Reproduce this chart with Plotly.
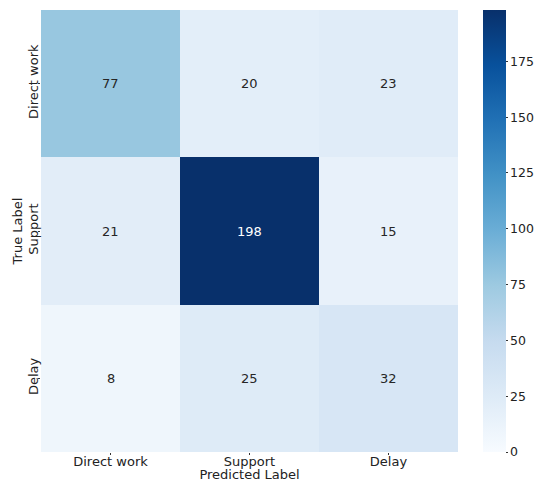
import plotly.graph_objects as go

# Confusion matrix: rows = true label, columns = predicted label
classes = ["Direct work", "Support", "Delay"]
counts = [
    [77, 20, 23],
    [21, 198, 15],
    [8, 25, 32],
]
cbar_ticks = [0, 25, 50, 75, 100, 125, 150, 175]

FONT = "DejaVu Sans"
zmax = max(max(r) for r in counts)

W, H = 534, 482
ML, MR, MT, MB = 41, 28, 10, 30
plot_w = W - ML - MR
heat_right = 458      # right edge of the matrix, px
cbar_left = 483       # left edge of the colour bar, px

fig = go.Figure(
    go.Heatmap(
        z=counts,
        x=classes,
        y=classes,
        colorscale="Blues",
        zmin=0,
        zmax=zmax,
        showscale=True,
        colorbar=dict(
            x=(cbar_left - ML) / plot_w,
            xanchor="left",
            xpad=0,
            ypad=0,
            y=0,
            yanchor="bottom",
            len=1,
            lenmode="fraction",
            thickness=23,
            outlinewidth=0,
            tickvals=cbar_ticks,
            ticks="outside",
            ticklen=2,
            tickwidth=1,
            tickcolor="#333333",
            tickfont=dict(family=FONT, size=12.5, color="#222222"),
        ),
        hoverinfo="skip",
    )
)

# cell counts, white on dark cells
annotations = []
for i, row in enumerate(counts):
    for j, v in enumerate(row):
        annotations.append(
            dict(
                x=classes[j],
                y=classes[i],
                text=str(v),
                showarrow=False,
                font=dict(family=FONT, size=13,
                          color="white" if v > zmax / 2 else "#262626"),
            )
        )

fig.update_layout(
    width=W,
    height=H,
    margin=dict(l=ML, r=MR, t=MT, b=MB, autoexpand=False),
    paper_bgcolor="white",
    plot_bgcolor="white",
    font=dict(family=FONT, size=13, color="#222222"),
    annotations=annotations,
    xaxis=dict(
        domain=[0, (heat_right - ML) / plot_w],
        automargin=False,
        title=dict(text="Predicted Label", standoff=0,
                   font=dict(family=FONT, size=13)),
        ticks="outside",
        ticklen=2,
        tickcolor="#333333",
        ticklabelstandoff=-5,
        showgrid=False,
        zeroline=False,
        showline=False,
        tickfont=dict(family=FONT, size=13),
    ),
    yaxis=dict(
        automargin=False,
        title=dict(text="True Label", standoff=0,
                   font=dict(family=FONT, size=13)),
        autorange="reversed",
        ticks="outside",
        ticklen=2,
        tickcolor="#333333",
        tickangle=-90,
        ticklabelstandoff=-5,
        showgrid=False,
        zeroline=False,
        showline=False,
        tickfont=dict(family=FONT, size=13),
    ),
)

fig.write_html("out.html")
